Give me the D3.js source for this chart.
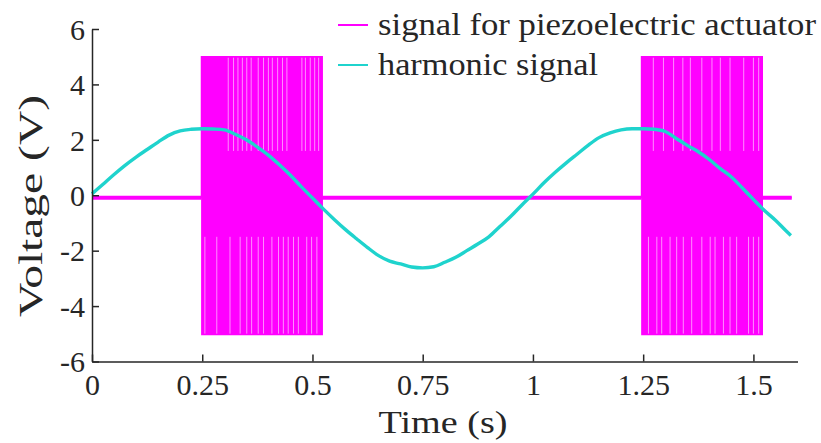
<!DOCTYPE html>
<html>
<head>
<meta charset="utf-8">
<script src="https://cdn.jsdelivr.net/npm/d3@7"></script>
<style>
  body { margin: 0; background: #fff; }
  svg { display: block; }
  text { font-family: "Liberation Serif", "DejaVu Serif", serif; fill: #262626; }
</style>
</head>
<body>
<svg width="821" height="443"></svg>
<script>
// harmonic signal, every 25 ms
var harmT = [0, 0.025, 0.05, 0.075, 0.1, 0.125, 0.15, 0.175, 0.2, 0.225, 0.25, 0.275, 0.3, 0.325, 0.35, 0.375,
  0.4, 0.425, 0.45, 0.475, 0.5, 0.525, 0.55, 0.575, 0.6, 0.625, 0.65, 0.675, 0.7, 0.725, 0.75, 0.775,
  0.8, 0.825, 0.85, 0.875, 0.9, 0.925, 0.95, 0.975, 1.0, 1.025, 1.05, 1.075, 1.1, 1.125, 1.15, 1.175,
  1.2, 1.225, 1.25, 1.275, 1.3, 1.325, 1.35, 1.375, 1.4, 1.425, 1.45, 1.475, 1.5, 1.525, 1.55, 1.575, 1.585];
var harmV = [0.05, 0.40, 0.75, 1.08, 1.38, 1.65, 1.92, 2.17, 2.32, 2.38, 2.40, 2.39, 2.36, 2.20, 2.00, 1.74,
  1.45, 1.10, 0.72, 0.30, -0.10, -0.50, -0.88, -1.24, -1.57, -1.89, -2.18, -2.38, -2.48, -2.59, -2.62, -2.58,
  -2.42, -2.24, -2.00, -1.76, -1.50, -1.13, -0.76, -0.35, 0.04, 0.45, 0.82, 1.16, 1.48, 1.80, 2.08, 2.25,
  2.36, 2.40, 2.40, 2.38, 2.30, 2.05, 1.80, 1.57, 1.29, 0.96, 0.66, 0.26, -0.15, -0.55, -0.90, -1.30, -1.45];

// piezo drive signal: idle level, and PWM bursts between +/-5 V
var sigIdle = -0.09;
var burstOn = [0.248, 1.246];
var burstOff = [0.522, 1.520];
var burstHigh = 5.0;
var burstLow = -5.03;
var sigEnd = 1.587;
var pwmPeriod = 0.0016;
// thin light gaps seen inside the bursts (time, s)
var gapsTop = [0.309, 0.321, 0.331, 0.341, 0.351, 0.361, 0.377, 0.389, 0.400, 0.409, 0.421, 0.432, 0.442,
  0.476, 0.484, 0.495, 0.505, 0.514,
  1.273, 1.296, 1.319, 1.340, 1.357, 1.383, 1.406, 1.425, 1.447, 1.478, 1.500, 1.512];
var gapsBottom = [0.256, 0.283, 0.313, 0.336, 0.351, 0.362, 0.377, 0.389, 0.408, 0.423, 0.434, 0.445, 0.457,
  0.468, 0.487, 0.498, 0.510,
  1.262, 1.281, 1.292, 1.311, 1.326, 1.341, 1.360, 1.383, 1.402, 1.413, 1.432, 1.447, 1.462, 1.489, 1.500, 1.512];

var xTicks = [0, 0.25, 0.5, 0.75, 1, 1.25, 1.5];
var xTickLabels = ["0", "0.25", "0.5", "0.75", "1", "1.25", "1.5"];
var yTicks = [-6, -4, -2, 0, 2, 4, 6];
var yTickLabels = ["-6", "-4", "-2", "0", "2", "4", "6"];
var legendLabels = ["signal for piezoelectric actuator", "harmonic signal"];
var colors = ["#ff00ff", "#1fd3cd"];

var svg = d3.select("svg");
var x = d3.scaleLinear().domain([0, 1.6]).range([92, 797.5]);
var y = d3.scaleLinear().domain([-6, 6]).range([361.5, 29]);

// build the piezo signal as a step series
var sig = [{t: 0, v: sigIdle}];
burstOn.forEach(function(on, i) {
  sig.push({t: on, v: sigIdle});
  for (var t = on; t < burstOff[i]; t += pwmPeriod) {
    sig.push({t: t, v: burstHigh});
    sig.push({t: t + pwmPeriod / 2, v: burstLow});
  }
  sig.push({t: burstOff[i], v: sigIdle});
});
sig.push({t: sigEnd, v: sigIdle});

var stepLine = d3.line().x(function(d) { return x(d.t); }).y(function(d) { return y(d.v); })
  .curve(d3.curveStepAfter);

svg.append("path")
  .attr("d", stepLine(sig))
  .attr("fill", "none")
  .attr("stroke", colors[0])
  .attr("stroke-width", 1.2);

// gaps
svg.append("g").selectAll("line").data(gapsTop).join("line")
  .attr("x1", function(d) { return x(d); }).attr("x2", function(d) { return x(d); })
  .attr("y1", y(burstHigh) + 1).attr("y2", y(1.6))
  .attr("stroke", "#fff").attr("stroke-opacity", 0.55).attr("stroke-width", 1);
svg.append("g").selectAll("line").data(gapsBottom).join("line")
  .attr("x1", function(d) { return x(d); }).attr("x2", function(d) { return x(d); })
  .attr("y1", y(burstLow) - 1).attr("y2", y(-1.5))
  .attr("stroke", "#fff").attr("stroke-opacity", 0.55).attr("stroke-width", 1);

// thicker idle segments (noisy baseline)
var idleSegs = [[0, burstOn[0]], [burstOff[0], burstOn[1]], [burstOff[1], sigEnd]];
svg.append("g").selectAll("line").data(idleSegs).join("line")
  .attr("x1", function(d) { return x(d[0]); })
  .attr("x2", function(d) { return x(d[1]); })
  .attr("y1", y(sigIdle)).attr("y2", y(sigIdle))
  .attr("stroke", colors[0]).attr("stroke-width", 4);

var harm = harmT.map(function(t, i) { return {t: t, v: harmV[i]}; });
svg.append("path")
  .attr("d", d3.line().x(function(d) { return x(d.t); }).y(function(d) { return y(d.v); })
    .curve(d3.curveMonotoneX)(harm))
  .attr("fill", "none")
  .attr("stroke", colors[1])
  .attr("stroke-width", 3.4);

// axes
var xAxis = d3.axisBottom(x).tickValues(xTicks).tickFormat(function(d, i) { return xTickLabels[i]; })
  .tickSizeInner(-7).tickSizeOuter(0).tickPadding(12);
var gx = svg.append("g").attr("transform", "translate(0," + y(-6) + ")").call(xAxis);
var yAxis = d3.axisLeft(y).tickValues(yTicks).tickFormat(function(d, i) { return yTickLabels[i]; })
  .tickSizeInner(-7).tickSizeOuter(0).tickPadding(7);
var gy = svg.append("g").attr("transform", "translate(" + x(0) + ",0)").call(yAxis);

[gx, gy].forEach(function(g) {
  g.select(".domain").attr("stroke", "#262626").attr("stroke-width", 1.5);
  g.selectAll(".tick line").attr("stroke", "#262626").attr("stroke-width", 1.5);
  g.selectAll(".tick text").attr("font-size", 30).attr("font-family", "Liberation Serif").attr("fill", "#262626");
});
gy.selectAll(".tick text").attr("dy", "0.34em");

svg.append("text").attr("x", 443).attr("y", 433).attr("text-anchor", "middle")
  .attr("font-size", 31).attr("textLength", 129).attr("lengthAdjust", "spacingAndGlyphs").text("Time (s)");
svg.append("text").attr("transform", "translate(42,206) rotate(-90)").attr("text-anchor", "middle")
  .attr("font-size", 33).attr("textLength", 222).attr("lengthAdjust", "spacingAndGlyphs").text("Voltage (V)");

// legend
var legWidths = [438, 220];
var leg = svg.append("g").selectAll("g").data(legendLabels).join("g")
  .attr("transform", function(d, i) { return "translate(338," + (25 + i * 40) + ")"; });
leg.append("line").attr("x1", 0).attr("x2", 30)
  .attr("stroke", function(d, i) { return colors[i]; }).attr("stroke-width", 2);
leg.append("text").attr("x", 40).attr("dy", "0.32em").attr("font-size", 31)
  .attr("textLength", function(d, i) { return legWidths[i]; }).attr("lengthAdjust", "spacingAndGlyphs")
  .text(function(d) { return d; });
</script>
</body>
</html>
